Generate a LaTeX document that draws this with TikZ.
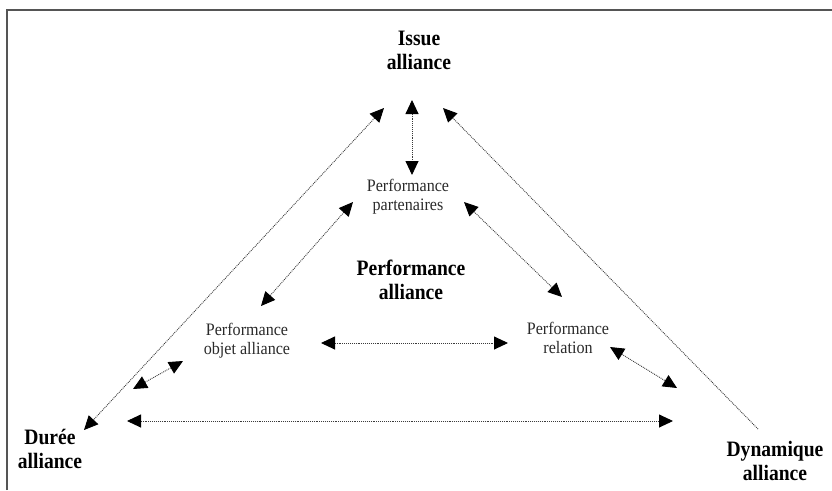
\documentclass[tikz,border=0pt]{standalone}
\usepackage{fontspec}
\setmainfont{Liberation Serif}
\newfontfamily\boldtall[FakeStretch=0.89]{Liberation Serif}
\newfontfamily\regtall[FakeStretch=0.92]{Liberation Serif}
\usetikzlibrary{arrows.meta}
\definecolor{frame}{HTML}{555555}
\definecolor{txt}{HTML}{2a2a2a}
\definecolor{ln}{HTML}{3a3a3a}
\begin{document}
\begin{tikzpicture}[x=1pt,y=-1pt,
  bold/.style={font=\boldtall\fontsize{22}{24}\selectfont\bfseries, align=center, inner sep=0pt, text=black},
  reg/.style={font=\regtall\fontsize{17.5}{19}\selectfont, align=center, inner sep=0pt, text=txt},
  link/.style={draw=ln, line width=0.9pt, densely dotted},
  both/.style={link, {Triangle[length=14pt,width=13pt,color=black]}-{Triangle[length=14pt,width=13pt,color=black]}},
  front/.style={link, {Triangle[length=14pt,width=13pt,color=black]}-}]
\useasboundingbox (0,0) rectangle (832,490);
\draw[frame, line width=2pt] (7,490) -- (7,10) -- (832,10);

\node[bold] (issue) at (419,50) {Issue\\alliance};
\node[bold] (duree) at (50,449) {Durée\\alliance};
\node[bold] (dyn) at (775,461) {Dynamique\\alliance};
\node[bold] (perf) at (411,280) {Performance\\alliance};
\node[reg] (part) at (408,197) {Performance\\partenaires};
\node[reg] (objet) at (247,341) {Performance\\objet alliance};
\node[reg] (rel) at (568,338) {Performance\\relation};

\coordinate (a1s) at (384,108); \coordinate (a1e) at (84,430);
\coordinate (a2s) at (412,100); \coordinate (a2e) at (412,175);
\coordinate (a3s) at (443,108); \coordinate (a3e) at (758,429);
\coordinate (a4s) at (353,202); \coordinate (a4e) at (261,306);
\coordinate (a5s) at (464,202); \coordinate (a5e) at (562,297);
\coordinate (a6s) at (321,343); \coordinate (a6e) at (508,343);
\coordinate (a7s) at (133,389); \coordinate (a7e) at (183,361);
\coordinate (a8s) at (610,347); \coordinate (a8e) at (677,388);
\coordinate (a9s) at (127,421); \coordinate (a9e) at (673,421);

\draw[both] (a1s) -- (a1e);
\draw[both] (a2s) -- (a2e);
\draw[front] (a3s) -- (a3e);
\draw[both] (a4s) -- (a4e);
\draw[both] (a5s) -- (a5e);
\draw[both] (a6s) -- (a6e);
\draw[both] (a7s) -- (a7e);
\draw[both] (a8s) -- (a8e);
\draw[both] (a9s) -- (a9e);
\end{tikzpicture}
\end{document}
